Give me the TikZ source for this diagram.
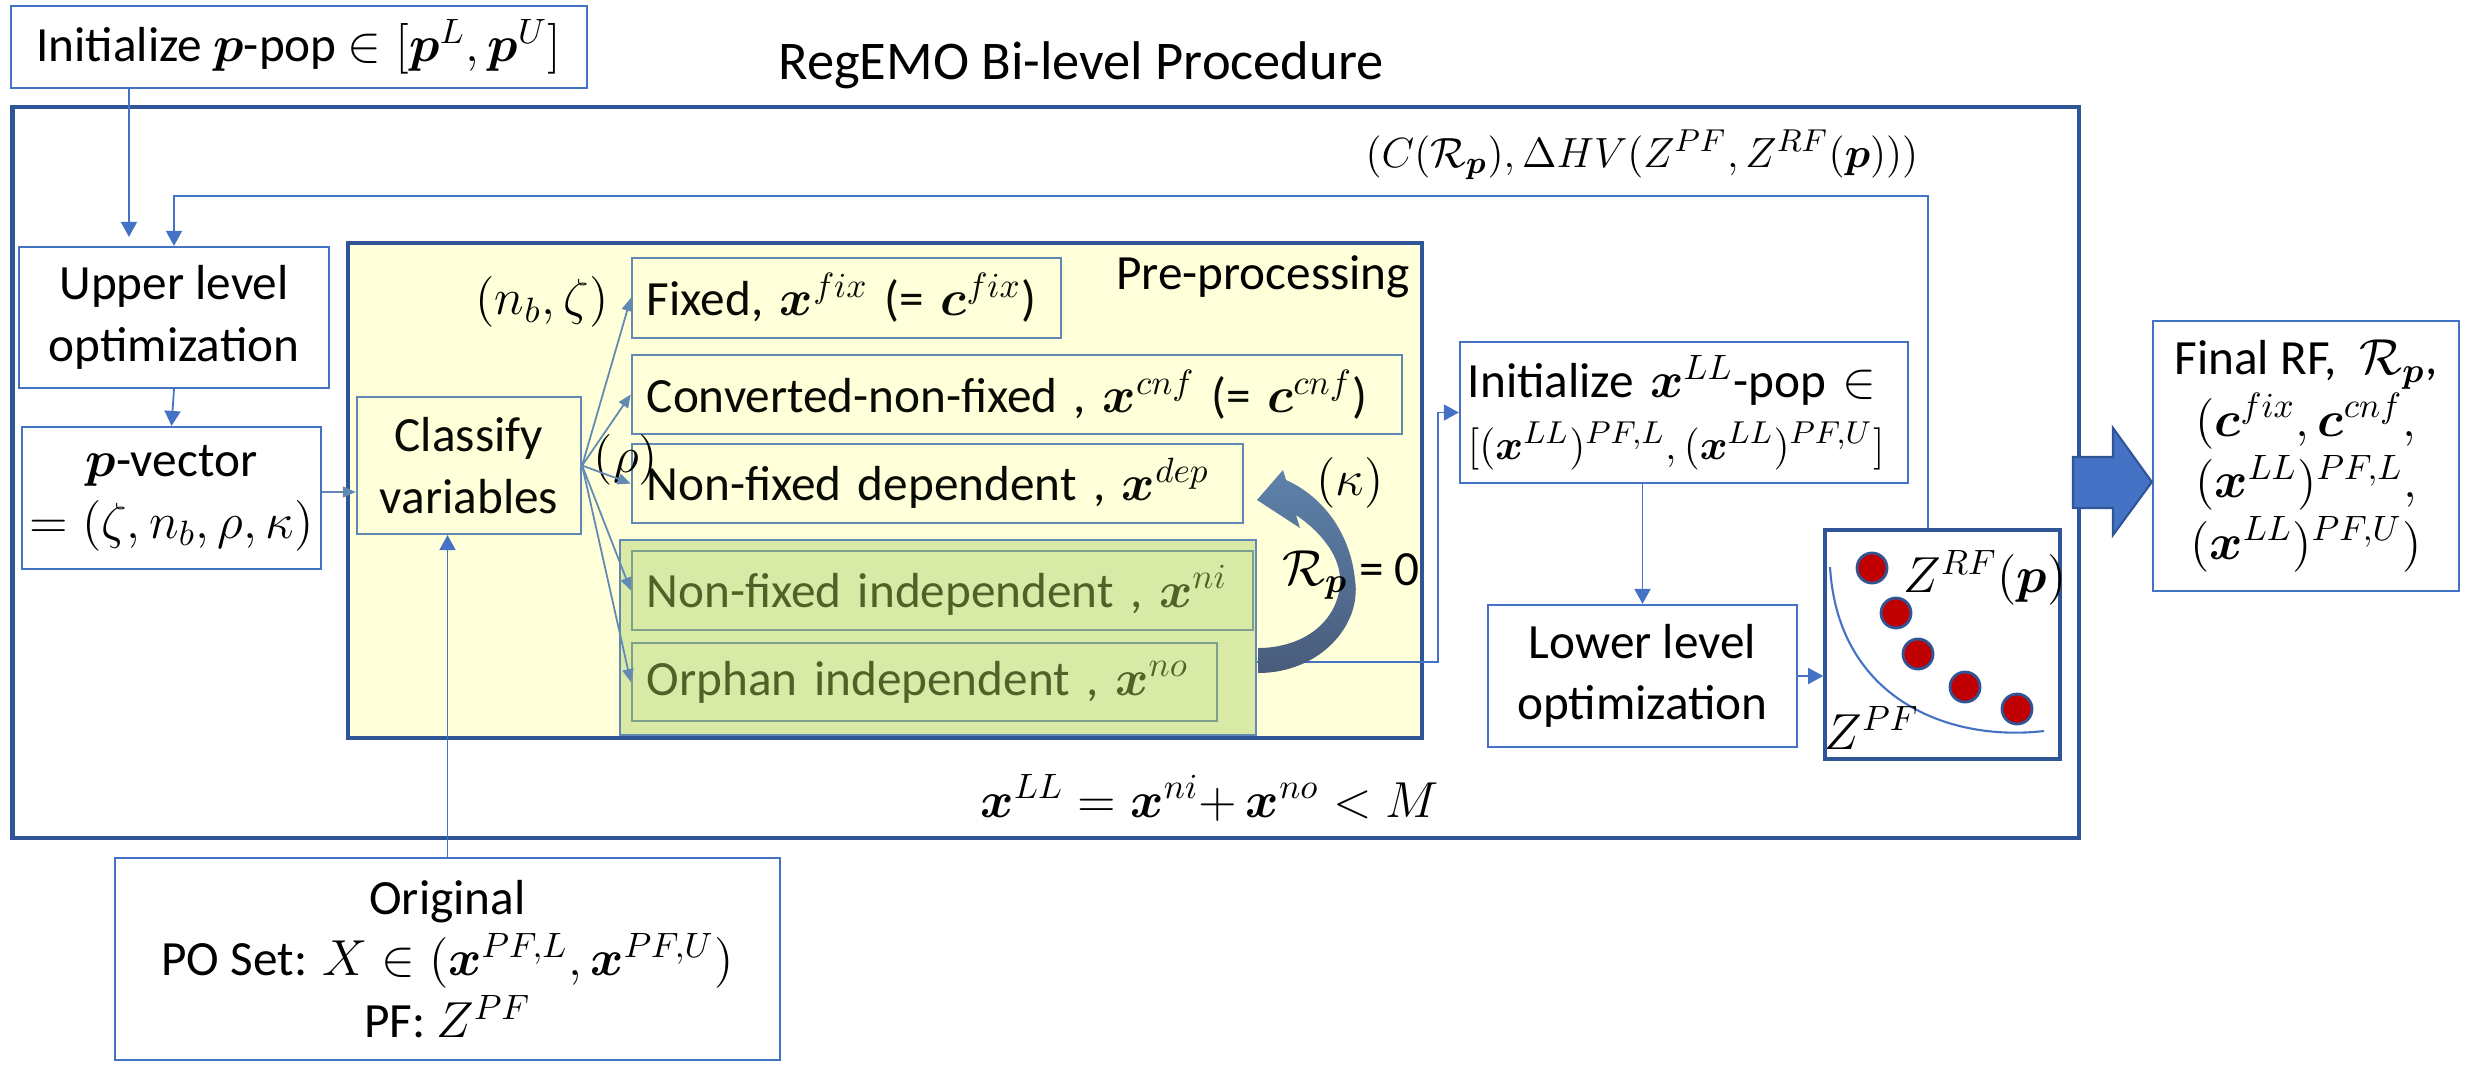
\documentclass[tikz,border=0pt]{standalone}
\usepackage{amsmath}
\usepackage{fontspec}
\setmainfont{Carlito}
\usetikzlibrary{arrows.meta}

\definecolor{boxblue}{HTML}{4472C4}
\definecolor{darkblue}{HTML}{2F5597}
\definecolor{steel}{HTML}{6289B3}
\definecolor{paleyellow}{HTML}{FFFFDA}
\definecolor{palegreen}{HTML}{D8EAA6}
\definecolor{greenedge}{HTML}{7E9F8C}
\definecolor{olive}{HTML}{4F6228}
\definecolor{dotred}{HTML}{C00000}

\tikzset{
  every node/.style={font=\fontsize{14}{17.5}\selectfont},
  box/.style={draw=boxblue, line width=0.6pt, align=center, inner sep=0pt},
  frame/.style={draw=darkblue, line width=1.2pt, inner sep=0pt},
  item/.style={draw=steel, line width=0.6pt, fill=paleyellow, align=left,
    inner xsep=0.15cm, inner ysep=0pt, text=black!90!olive},
  greenitem/.style={item, draw=greenedge, fill=palegreen, text=olive},
  conn/.style={draw=boxblue, line width=0.5pt, -{Triangle[length=0.15cm,width=0.16cm]}},
  split/.style={draw=steel, line width=0.5pt, -{Triangle[length=0.13cm,width=0.11cm]}},
  dot/.style={fill=dotred, draw=darkblue, line width=0.8pt},
}

\begin{document}
\begin{tikzpicture}[x=0.01cm, y=-0.01cm]
    \useasboundingbox (0,0) rectangle (2470,1081);

    % outer procedure frame and its title
    \node[frame, minimum width=20.65cm, minimum height=7.31cm] (outer) at (1045.5,472.5) {};
    \node[font=\fontsize{15.5}{18}\selectfont] (title) at (1081,65) {RegEMO Bi-level Procedure};

    \node[box, minimum width=5.76cm, minimum height=0.82cm] (init) at (299,47)
        {Initialize $\boldsymbol{p}$-pop $\in [\boldsymbol{p}^L, \boldsymbol{p}^U]$};
    \node[box, minimum width=3.10cm, minimum height=1.41cm] (upper) at (174,317.5)
        {Upper level\\optimization};
    \node[box, minimum width=2.99cm, minimum height=1.42cm] (pvec) at (171.5,498)
        {$\boldsymbol{p}$-vector\\$=(\zeta, n_b, \rho, \kappa)$};

    % pre-processing block
    \node[frame, fill=paleyellow, minimum width=10.74cm, minimum height=4.95cm] (pre) at (885,490.5) {};
    \node (prelab) at (1263,277) {Pre-processing};
    \node[item, align=center, inner xsep=0pt, minimum width=2.24cm, minimum height=1.37cm] (cls) at (469,465.5)
        {Classify\\variables};
    \node[item, text width=3.99cm, minimum height=0.80cm] (fix) at (846.5,298)
        {Fixed, $\boldsymbol{x}^{fix}$ (= $\boldsymbol{c}^{fix}$)};
    \node[item, text width=7.40cm, minimum height=0.79cm] (cnf) at (1017,394.5)
        {Converted-non-fixed , $\boldsymbol{x}^{cnf}$ (= $\boldsymbol{c}^{cnf}$)};
    \node[item, text width=5.81cm, minimum height=0.79cm] (dep) at (937.5,483.5)
        {Non-fixed dependent , $\boldsymbol{x}^{dep}$};
    \node[draw=steel, line width=0.5pt, fill=palegreen, minimum width=6.36cm, minimum height=1.95cm] (grn) at (938,637.5) {};
    \node[greenitem, text width=5.91cm, minimum height=0.79cm] (ni) at (942.5,590.5)
        {Non-fixed independent , $\boldsymbol{x}^{ni}$};
    \node[greenitem, text width=5.55cm, minimum height=0.78cm] (no) at (924.5,682)
        {Orphan independent , $\boldsymbol{x}^{no}$};

    \node (nbz) at (542,302) {$(n_b, \zeta)$};
    \node (rho) at (626,460) {$(\rho)$};

    % lower level side
    \node[box, align=left, inner xsep=0.08cm, text width=4.32cm, minimum height=1.41cm] (ill) at (1684,412.5)
        {Initialize $\boldsymbol{x}^{LL}$-pop $\in$\\{\fontsize{13}{17.5}\selectfont$[(\boldsymbol{x}^{LL})^{PF,L}, (\boldsymbol{x}^{LL})^{PF,U}]$}};
    \node[box, minimum width=3.09cm, minimum height=1.42cm] (low) at (1642.5,676)
        {Lower level\\optimization};
    \node[frame, line width=1pt, minimum width=2.35cm, minimum height=2.29cm] (zbox) at (1942.5,644.5) {};
    \draw[boxblue, line width=0.6pt] (1830,567) .. controls (1838,700) and (1950,742) .. (2044,731);
    \foreach \px/\py in {1872/568, 1896/613, 1918/654, 1965/687, 2017/709}
        \filldraw[dot] (\px,\py) circle (0.15cm);
    \node (zrf) at (1985,578) {$Z^{RF}(\boldsymbol{p})$};
    \node (zpf) at (1872,728) {$Z^{PF}$};

    \node[box, minimum width=3.06cm, minimum height=2.70cm] (final) at (2306,456)
        {Final RF,~ $\mathcal{R}_{\boldsymbol{p}}$,\\$(\boldsymbol{c}^{fix}, \boldsymbol{c}^{cnf},$\\$(\boldsymbol{x}^{LL})^{PF,L},$\\$(\boldsymbol{x}^{LL})^{PF,U})$};
    \node[box, minimum width=6.65cm, minimum height=2.02cm] (orig) at (447.5,959)
        {Original\\PO Set: $X \in (\boldsymbol{x}^{PF,L}, \boldsymbol{x}^{PF,U})$\\PF: $Z^{PF}$};

    \node[font=\fontsize{12.5}{15}\selectfont] (fbtxt) at (1642,155)
        {$(C(\mathcal{R}_{\boldsymbol{p}}), \Delta HV(Z^{PF}, Z^{RF}(\boldsymbol{p})))$};
    \node (sumeq) at (1210,798)
        {$\boldsymbol{x}^{LL} = \boldsymbol{x}^{ni}{+}\, \boldsymbol{x}^{no} < M$};

    % connectors
    \draw[conn, shorten >=0.09cm] ([xshift=-1.7cm]init.south) -- ([xshift=-0.45cm]upper.north);
    \draw[conn] ([xshift=-0.145cm]zbox.north) |- (174,196) -- (upper.north);
    \draw[conn] (upper.south) -- (pvec.north);
    \draw[split] ([yshift=0.06cm]pvec.east) -- ([yshift=-0.265cm]cls.west);
    \foreach \n in {fix,cnf,dep,ni,no}
        \draw[split] (cls.east) -- (\n.west);
    \draw[conn] ([yshift=-0.245cm]grn.east) -- ++(181,0) |- (ill.west);
    \draw[conn] (low.north |- ill.south) -- (low.north);
    \draw[conn] (low.east) -- (low.east -| zbox.west);
    \draw[conn] (orig.north) -- (orig.north |- cls.south);

    % curved arrow back to the dependent variables
    \path[top color=steel!95!black, bottom color=darkblue!60!black!80, draw=none]
        (1258,673) .. controls (1320,673) and (1362,625) .. (1355,580)
        .. controls (1350,530) and (1320,495) .. (1286,480) -- (1283,470) -- (1257,500)
        -- (1300,528) -- (1296,515) .. controls (1325,535) and (1342,560) .. (1340,585)
        .. controls (1336,625) and (1300,648) .. (1258,648) -- cycle;
    \node (kap) at (1350,483) {$(\kappa)$};
    \node (rzero) at (1351,575) {$\mathcal{R}_{\boldsymbol{p}}$ = 0};

    % block arrow to the final result
    \filldraw[fill=boxblue, draw=darkblue, line width=0.6pt]
        (2073,457) -- (2113,457) -- (2113,428) -- (final.west |- 0,482) -- (2113,535)
        -- (2113,508) -- (2073,508) -- cycle;
\end{tikzpicture}
\end{document}
